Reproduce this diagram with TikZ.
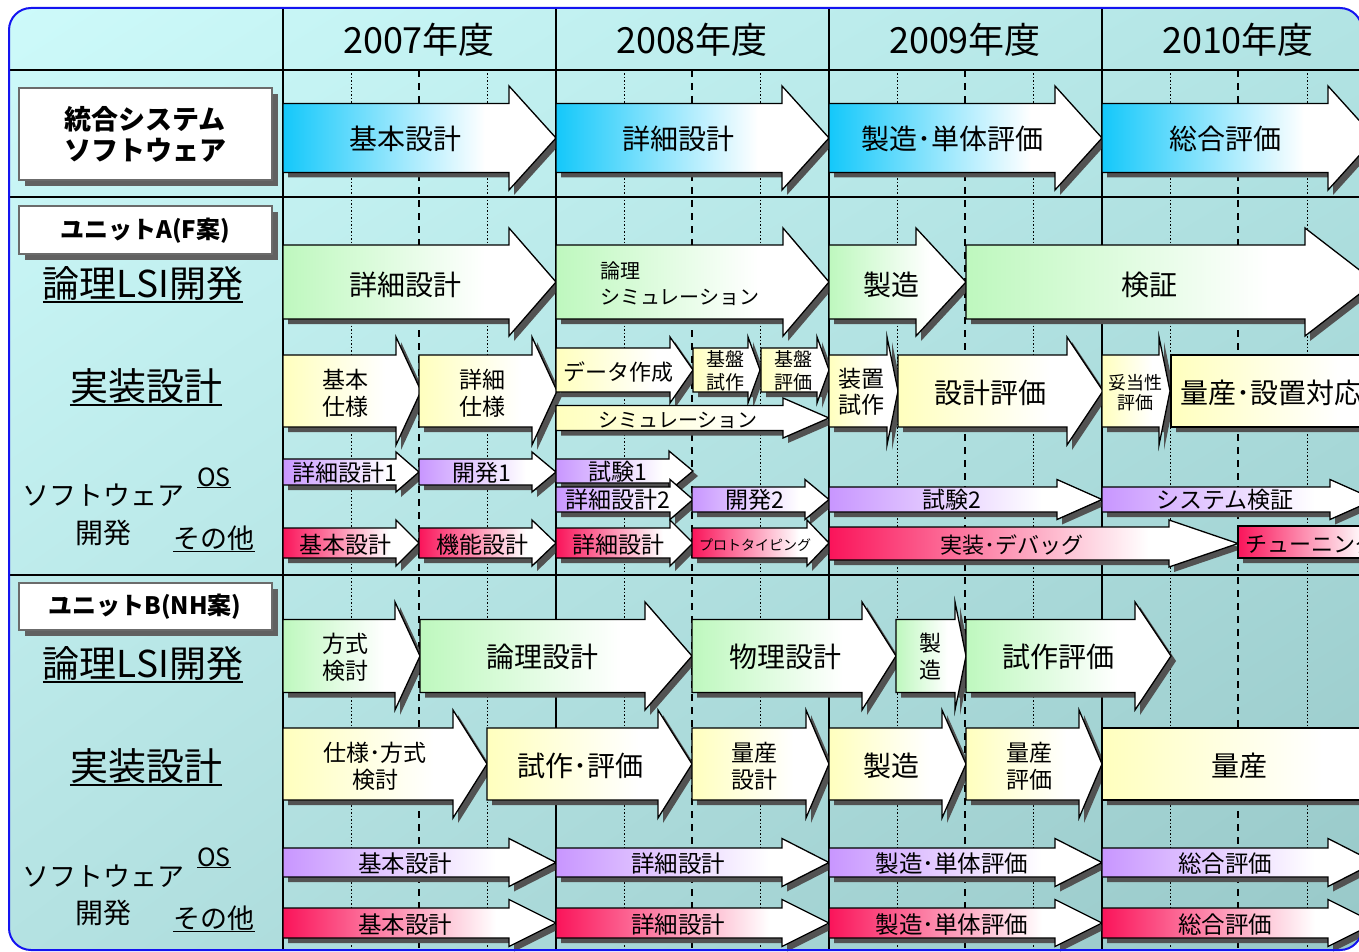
\documentclass[tikz,border=0pt]{standalone}
\usepackage{fontspec}
\setmainfont{Noto Sans CJK JP}
\usetikzlibrary{shadings}
\definecolor{ccy}{RGB}{20,200,250}
\definecolor{cgr}{RGB}{190,248,190}
\definecolor{cye}{RGB}{255,255,190}
\definecolor{cpu}{RGB}{200,150,255}
\definecolor{cre}{RGB}{250,20,90}
\definecolor{bgTL}{RGB}{205,250,250}
\definecolor{bgTR}{RGB}{178,228,228}
\definecolor{bgBL}{RGB}{180,226,226}
\definecolor{bgBR}{RGB}{152,200,200}
\definecolor{brd}{RGB}{20,20,240}
\pgfdeclarehorizontalshading{shcy}{100bp}{color(0bp)=(ccy); color(25bp)=(ccy); color(62bp)=(white); color(100bp)=(white)}
\pgfdeclarehorizontalshading{shgr}{100bp}{color(0bp)=(cgr); color(25bp)=(cgr); color(62bp)=(white); color(100bp)=(white)}
\pgfdeclarehorizontalshading{shye}{100bp}{color(0bp)=(cye); color(25bp)=(cye); color(62bp)=(white); color(100bp)=(white)}
\pgfdeclarehorizontalshading{shpu}{100bp}{color(0bp)=(cpu); color(25bp)=(cpu); color(64bp)=(white); color(100bp)=(white)}
\pgfdeclarehorizontalshading{shre}{100bp}{color(0bp)=(cre); color(25bp)=(cre); color(64bp)=(white); color(100bp)=(white)}
\newcommand\fs[2]{\fontsize{#1}{#2}\selectfont}
% #1 x0, #2 head start, #3 tip, #4 y centre, #5 body half height, #6 head half height, #7 shading
\newcommand\garr[7]{%
  \fill[black!68, shift={(5,5)}] (#1,#4-#5) -- (#2,#4-#5) -- (#2,#4-#6) -- (#3,#4) -- (#2,#4+#6) -- (#2,#4+#5) -- (#1,#4+#5) -- cycle;
  \shadedraw[shading=#7, draw=black, line width=1.3] (#1,#4-#5) -- (#2,#4-#5) -- (#2,#4-#6) -- (#3,#4) -- (#2,#4+#6) -- (#2,#4+#5) -- (#1,#4+#5) -- cycle;
}
\newcommand\lbox[4]{%
  \fill[black!62] (#1+6,#2+6) rectangle (#3+6,#4+6);
  \filldraw[fill=white, draw=black!58, line width=2.5] (#1,#2) rectangle (#3,#4);
}
\begin{document}
\begin{tikzpicture}[x=1pt,y=-1pt,
  lb/.style={inner sep=0pt, align=center, text=black},
  ul/.style={line width=1.6}]
\useasboundingbox (0,0) rectangle (1359,952);
\clip (0,0) rectangle (1359,952);
% background
\shade[rounded corners=22, upper left=bgTL, upper right=bgTR, lower left=bgBL, lower right=bgBR] (9,8) rectangle (1362,950);
% grid
\foreach \x in {351,487,624,760,897,1033,1170,1307} \draw[line width=0.9, dash pattern=on 1.5pt off 2pt] (\x,70) -- (\x,950);
\foreach \x in {419,692,965,1238} \draw[line width=1.2, dash pattern=on 7pt off 6pt] (\x,70) -- (\x,950);
\foreach \x in {283,556,829,1102} \draw[line width=1.4] (\x,8) -- (\x,950);
\foreach \y in {70,197,575} \draw[line width=1.4] (9,\y) -- (1362,\y);
% header
\node[lb, font=\fs{36}{40}] (y07) at (419,40) {2007年度};
\node[lb, font=\fs{36}{40}] (y08) at (692,40) {2008年度};
\node[lb, font=\fs{36}{40}] (y09) at (965,40) {2009年度};
\node[lb, font=\fs{36}{40}] (y10) at (1238,40) {2010年度};
% left labels
\lbox{19}{88}{272}{180}
\node[lb, font=\fs{27}{31}\bfseries] (b1) at (145,134) {統合システム\\ソフトウェア};
\lbox{19}{206}{272}{254}
\node[lb, font=\fs{24}{28}\bfseries] (bA) at (145,231) {ユニットA(F案)};
\lbox{19}{583}{272}{630}
\node[lb, font=\fs{24}{28}\bfseries] (bB) at (145,607) {ユニットB(NH案)};
% unit A labels
\node[lb, font=\fs{37}{40}] (aL) at (143,284) {論理LSI開発};
\draw[ul] ([yshift=-1pt]aL.south west) -- ([yshift=-1pt]aL.south east);
\node[lb, font=\fs{38}{40}] (aJ) at (146,386) {実装設計};
\draw[ul] ([yshift=-1pt]aJ.south west) -- ([yshift=-1pt]aJ.south east);
\node[lb, font=\fs{27}{30}] (aS) at (103,495) {ソフトウェア};
\node[lb, font=\fs{28}{30}] (aK) at (103,533) {開発};
\node[lb, font=\fs{25}{28}] (aO) at (214,477) {OS};
\draw[ul] ([yshift=-1pt]aO.south west) -- ([yshift=-1pt]aO.south east);
\node[lb, font=\fs{27}{30}] (aT) at (214,538) {その他};
\draw[ul] ([yshift=-1pt]aT.south west) -- ([yshift=-1pt]aT.south east);
% unit B labels
\node[lb, font=\fs{37}{40}] (bL) at (143,664) {論理LSI開発};
\draw[ul] ([yshift=-1pt]bL.south west) -- ([yshift=-1pt]bL.south east);
\node[lb, font=\fs{38}{40}] (bJ) at (146,766) {実装設計};
\draw[ul] ([yshift=-1pt]bJ.south west) -- ([yshift=-1pt]bJ.south east);
\node[lb, font=\fs{27}{30}] (bS) at (103,876) {ソフトウェア};
\node[lb, font=\fs{28}{30}] (bK) at (103,913) {開発};
\node[lb, font=\fs{25}{28}] (bO) at (214,857) {OS};
\draw[ul] ([yshift=-1pt]bO.south west) -- ([yshift=-1pt]bO.south east);
\node[lb, font=\fs{27}{30}] (bT) at (214,918) {その他};
\draw[ul] ([yshift=-1pt]bT.south west) -- ([yshift=-1pt]bT.south east);
% ---- row 1: integrated system software
\garr{283}{509}{556}{138}{34.5}{52}{shcy}
\garr{556}{782}{829}{138}{34.5}{52}{shcy}
\garr{829}{1055}{1102}{138}{34.5}{52}{shcy}
\garr{1102}{1328}{1375}{138}{34.5}{52}{shcy}
\node[lb, font=\fs{28}{32}] (r1a) at (405,139) {基本設計};
\node[lb, font=\fs{28}{32}] (r1b) at (678,139) {詳細設計};
\node[lb, font=\fs{28}{32}] (r1c) at (952,139) {製造･単体評価};
\node[lb, font=\fs{28}{32}] (r1d) at (1225,139) {総合評価};
% ---- unit A logic
\garr{283}{509}{556}{282}{37}{54}{shgr}
\garr{556}{783}{829}{282}{37}{54}{shgr}
\garr{829}{916}{966}{282}{37}{54}{shgr}
\garr{966}{1305}{1375}{282}{37}{54}{shgr}
\node[lb, font=\fs{28}{32}] (aL1) at (405,285) {詳細設計};
\node[lb, font=\fs{20}{26}, anchor=west, align=left] (aL2) at (600,284) {論理\\シミュレーション};
\node[lb, font=\fs{28}{32}] (aL3) at (891,285) {製造};
\node[lb, font=\fs{28}{32}] (aL4) at (1149,285) {検証};
% ---- unit A implementation
\garr{283}{396}{421}{391}{36}{54}{shye}
\garr{419}{532}{557}{391}{36}{54}{shye}
\garr{556}{670}{693}{370}{22}{33}{shye}
\garr{693}{748}{760}{370}{22}{33}{shye}
\garr{761}{817}{829}{370}{22}{33}{shye}
\garr{556}{783}{829}{418}{12.5}{20}{shye}
\garr{829}{887}{898}{391}{36}{54}{shye}
\garr{898}{1067}{1103}{391}{36}{54}{shye}
\garr{1102}{1159}{1170}{391}{36}{54}{shye}
\garr{1171}{1400}{1400}{391}{36}{36}{shye}
\node[lb, font=\fs{23}{27}] (aJ1) at (345,393) {基本\\仕様};
\node[lb, font=\fs{23}{27}] (aJ2) at (482,393) {詳細\\仕様};
\node[lb, font=\fs{22}{26}] (aJ3) at (618,372) {データ作成};
\node[lb, font=\fs{19}{23}] (aJ4) at (725,371) {基盤\\試作};
\node[lb, font=\fs{19}{23}] (aJ5) at (793,371) {基盤\\評価};
\node[lb, font=\fs{20}{24}] (aJ6) at (678,420) {シミュレーション};
\node[lb, font=\fs{23}{26}] (aJ7) at (861,392) {装置\\試作};
\node[lb, font=\fs{28}{32}] (aJ8) at (990,393) {設計評価};
\node[lb, font=\fs{18}{20}] (aJ9) at (1135,393) {妥当性\\評価};
\node[lb, font=\fs{28}{32}, anchor=west] (aJ10) at (1180,393) {量産･設置対応};
% ---- unit A OS
\garr{283}{396}{419}{472}{13}{20}{shpu}
\garr{419}{532}{556}{472}{13}{20}{shpu}
\garr{556}{669}{693}{471}{12}{20}{shpu}
\garr{556}{670}{693}{499.5}{12.5}{20}{shpu}
\garr{692}{805}{829}{499.5}{12.5}{20}{shpu}
\garr{829}{1057}{1102}{499.5}{12.5}{20}{shpu}
\garr{1102}{1330}{1375}{499.5}{12.5}{20}{shpu}
\node[lb, font=\fs{23}{26}] (aO1) at (345,473) {詳細設計1};
\node[lb, font=\fs{23}{26}] (aO2) at (482,473) {開発1};
\node[lb, font=\fs{23}{26}] (aO3) at (618,472) {試験1};
\node[lb, font=\fs{23}{26}] (aO4) at (618,500) {詳細設計2};
\node[lb, font=\fs{23}{26}] (aO5) at (755,500) {開発2};
\node[lb, font=\fs{23}{26}] (aO6) at (952,500) {試験2};
\node[lb, font=\fs{23}{26}] (aO7) at (1225,500) {システム検証};
% ---- unit A other
\garr{283}{396}{419}{543}{15}{23}{shre}
\garr{419}{532}{556}{543}{15}{23}{shre}
\garr{556}{670}{693}{543}{15}{23}{shre}
\garr{692}{807}{829}{543}{15}{23}{shre}
\garr{829}{1169}{1238}{543.5}{16.5}{23.5}{shre}
\garr{1238}{1400}{1400}{542}{16}{16}{shre}
\node[lb, font=\fs{23}{26}] (aT1) at (345,545) {基本設計};
\node[lb, font=\fs{23}{26}] (aT2) at (482,545) {機能設計};
\node[lb, font=\fs{23}{26}] (aT3) at (618,545) {詳細設計};
\node[lb, font=\fs{14}{16}] (aT4) at (755,545) {プロトタイピング};
\node[lb, font=\fs{22}{26}] (aT5) at (1012,545) {実装･デバッグ};
\node[lb, font=\fs{22}{26}, anchor=west] (aT6) at (1245,544) {チューニング};
% ---- unit B logic
\garr{283}{395}{420}{656}{36.5}{54}{shgr}
\garr{420}{645}{692}{656}{36.5}{54}{shgr}
\garr{692}{862}{896}{656}{36.5}{54}{shgr}
\garr{896}{955}{966}{656}{36.5}{54}{shgr}
\garr{966}{1135}{1171}{656}{36.5}{54}{shgr}
\node[lb, font=\fs{23}{27}] (bL1) at (345,657) {方式\\検討};
\node[lb, font=\fs{28}{32}] (bL2) at (542,657) {論理設計};
\node[lb, font=\fs{28}{32}] (bL3) at (785,657) {物理設計};
\node[lb, font=\fs{22}{27}] (bL4) at (930,657) {製\\造};
\node[lb, font=\fs{28}{32}] (bL5) at (1058,657) {試作評価};
% ---- unit B implementation
\garr{283}{453}{487}{764}{36}{54}{shye}
\garr{487}{658}{692}{764}{36}{54}{shye}
\garr{692}{806}{829}{764}{36}{54}{shye}
\garr{829}{942}{966}{764}{36}{54}{shye}
\garr{966}{1079}{1102}{764}{36}{54}{shye}
\garr{1102}{1400}{1400}{764}{36}{36}{shye}
\node[lb, font=\fs{23}{27}] (bJ1) at (375,766) {仕様･方式\\検討};
\node[lb, font=\fs{28}{32}] (bJ2) at (580,766) {試作･評価};
\node[lb, font=\fs{23}{27}] (bJ3) at (754,766) {量産\\設計};
\node[lb, font=\fs{28}{32}] (bJ4) at (891,766) {製造};
\node[lb, font=\fs{23}{27}] (bJ5) at (1029,766) {量産\\評価};
\node[lb, font=\fs{28}{32}] (bJ6) at (1239,766) {量産};
% ---- unit B OS
\garr{283}{509}{556}{862.5}{14.5}{24}{shpu}
\garr{556}{782}{829}{862.5}{14.5}{24}{shpu}
\garr{829}{1055}{1102}{862.5}{14.5}{24}{shpu}
\garr{1102}{1328}{1375}{862.5}{14.5}{24}{shpu}
\node[lb, font=\fs{23.5}{26}] (bO1) at (405,864) {基本設計};
\node[lb, font=\fs{23.5}{26}] (bO2) at (678,864) {詳細設計};
\node[lb, font=\fs{23.5}{26}] (bO3) at (952,864) {製造･単体評価};
\node[lb, font=\fs{23.5}{26}] (bO4) at (1225,864) {総合評価};
% ---- unit B other
\garr{283}{509}{556}{923}{15}{23.5}{shre}
\garr{556}{782}{829}{923}{15}{23.5}{shre}
\garr{829}{1055}{1102}{923}{15}{23.5}{shre}
\garr{1102}{1328}{1375}{923}{15}{23.5}{shre}
\node[lb, font=\fs{23.5}{26}] (bT1) at (405,925) {基本設計};
\node[lb, font=\fs{23.5}{26}] (bT2) at (678,925) {詳細設計};
\node[lb, font=\fs{23.5}{26}] (bT3) at (952,925) {製造･単体評価};
\node[lb, font=\fs{23.5}{26}] (bT4) at (1225,925) {総合評価};
% border
\draw[line width=2, draw=brd, rounded corners=22] (9,8) rectangle (1362,950);
\end{tikzpicture}
\end{document}
